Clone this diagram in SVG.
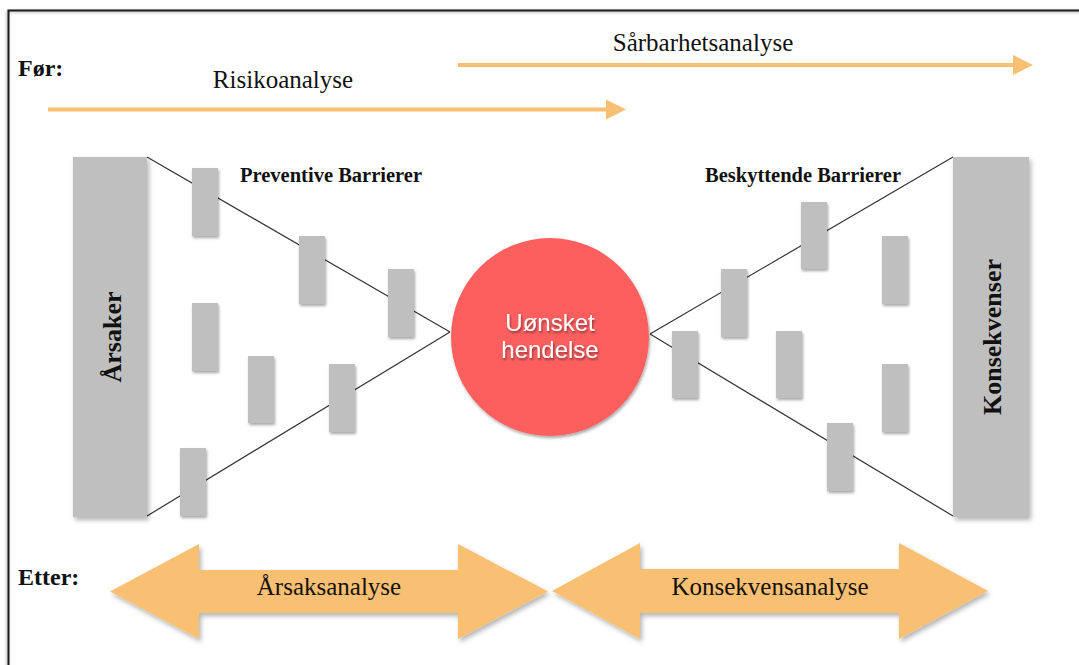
<svg xmlns="http://www.w3.org/2000/svg" width="1079" height="665" viewBox="0 0 1079 665">
  <defs>
    <filter id="shadow" x="-20%" y="-20%" width="150%" height="150%">
      <feDropShadow dx="1" dy="2" stdDeviation="1.5" flood-color="#000" flood-opacity="0.35"/>
    </filter>
    <filter id="softShadow" x="-10%" y="-10%" width="130%" height="130%">
      <feDropShadow dx="2" dy="3" stdDeviation="2.5" flood-color="#000" flood-opacity="0.3"/>
    </filter>
    <filter id="textShadow" x="-10%" y="-30%" width="130%" height="170%">
      <feDropShadow dx="1" dy="2" stdDeviation="1.2" flood-color="#000" flood-opacity="0.45"/>
    </filter>
    <filter id="frameShadow" x="-5%" y="-5%" width="110%" height="110%">
      <feDropShadow dx="-1" dy="1" stdDeviation="1.5" flood-color="#000" flood-opacity="0.3"/>
    </filter>
    <marker id="head" viewBox="0 0 5 5" refX="0" refY="2.5" markerWidth="5" markerHeight="5" orient="auto" markerUnits="strokeWidth">
      <path d="M0,0 L5,2.5 L0,5 Z" fill="#f9bf72"/>
    </marker>
  </defs>
  <style>
    .label { font-family: "Liberation Serif", "Times New Roman", serif; fill: #111; }
    .bold { font-weight: bold; }
    .reg { font-size: 25px; }
    .barrier { fill: #bfbfbf; filter: url(#shadow); }
    .pillar { fill: #bfbfbf; filter: url(#softShadow); }
    .flow { stroke: #f9bf72; stroke-width: 4; fill: none; marker-end: url(#head); }
    .wire { stroke: #333; stroke-width: 1.2; fill: none; }
    .big-arrow { fill: #f9bf72; filter: url(#softShadow); }
  </style>

  <rect width="1079" height="665" fill="#fff"/>
  <!-- outer frame (runs off the right and bottom edges) -->
  <rect x="8.5" y="10.5" width="1200" height="800" fill="none" stroke="#1a1a1a" stroke-width="2" filter="url(#frameShadow)"/>

  <!-- timeline labels and arrows -->
  <g id="before">
    <text class="label bold" x="18" y="76" font-size="24">Før:</text>
    <text class="label reg" x="283" y="88" text-anchor="middle">Risikoanalyse</text>
    <text class="label reg" x="703" y="51" text-anchor="middle">Sårbarhetsanalyse</text>
    <line class="flow" x1="48" y1="109.5" x2="606" y2="109.5"/>
    <line class="flow" x1="458" y1="65" x2="1013" y2="65"/>
  </g>

  <!-- connectors -->
  <g id="connectors">
    <line class="wire" x1="147" y1="157" x2="450" y2="332"/>
    <line class="wire" x1="147" y1="516" x2="450" y2="332"/>
    <line class="wire" x1="650" y1="334" x2="953" y2="157"/>
    <line class="wire" x1="650" y1="334" x2="953" y2="516"/>
  </g>

  <!-- causes -->
  <g id="causes">
    <rect class="pillar" x="73" y="157" width="74" height="360"/>
    <text class="label bold" font-size="26" text-anchor="middle" transform="translate(121,337) rotate(-90)">Årsaker</text>
  </g>

  <!-- consequences -->
  <g id="consequences">
    <rect class="pillar" x="953" y="157" width="76" height="360"/>
    <text class="label bold" font-size="26" text-anchor="middle" transform="translate(1001,337) rotate(-90)">Konsekvenser</text>
  </g>

  <!-- preventive barriers -->
  <g id="preventive-barriers">
    <text class="label bold" x="240" y="182" font-size="20" textLength="182" lengthAdjust="spacingAndGlyphs">Preventive Barrierer</text>
    <rect id="pb1" class="barrier" x="192" y="168" width="26" height="68"/>
    <rect id="pb2" class="barrier" x="299" y="236" width="26" height="68"/>
    <rect id="pb3" class="barrier" x="388" y="269" width="26" height="68"/>
    <rect id="pb4" class="barrier" x="192" y="303" width="26" height="68"/>
    <rect id="pb5" class="barrier" x="248" y="356" width="26" height="67"/>
    <rect id="pb6" class="barrier" x="329" y="364" width="26" height="68"/>
    <rect id="pb7" class="barrier" x="180" y="448" width="26" height="68"/>
  </g>

  <!-- protective barriers -->
  <g id="protective-barriers">
    <text class="label bold" x="705" y="182" font-size="20" textLength="196" lengthAdjust="spacingAndGlyphs">Beskyttende Barrierer</text>
    <rect id="bb1" class="barrier" x="801" y="202" width="26" height="67"/>
    <rect id="bb2" class="barrier" x="721" y="269" width="26" height="68"/>
    <rect id="bb3" class="barrier" x="672" y="331" width="26" height="67"/>
    <rect id="bb4" class="barrier" x="776" y="331" width="26" height="67"/>
    <rect id="bb5" class="barrier" x="882" y="236" width="26" height="68"/>
    <rect id="bb6" class="barrier" x="882" y="364" width="26" height="68"/>
    <rect id="bb7" class="barrier" x="827" y="423" width="26" height="68"/>
  </g>

  <!-- top event -->
  <g id="event">
    <circle cx="550" cy="337" r="99" fill="#fd5e5e" filter="url(#shadow)"/>
    <g font-family="'Liberation Sans', Arial, sans-serif" font-size="24" fill="#fff" text-anchor="middle" filter="url(#textShadow)">
      <text x="550" y="331">Uønsket</text>
      <text x="550" y="358">hendelse</text>
    </g>
  </g>

  <!-- after the event -->
  <g id="after">
    <text class="label bold" x="18" y="585" font-size="24">Etter:</text>
  </g>

  <g id="cause-analysis">
    <path class="big-arrow" d="M110,591.5 L199,544 L199,570 L458,570 L458,544 L548,591.5 L458,639 L458,613 L199,613 L199,639 Z"/>
    <text class="label reg" x="329" y="595" text-anchor="middle">Årsaksanalyse</text>
  </g>

  <g id="consequence-analysis">
    <path class="big-arrow" d="M552,591 L640,543 L640,569 L899,569 L899,543 L988,591 L899,639 L899,613 L640,613 L640,639 Z"/>
    <text class="label reg" x="770" y="595" text-anchor="middle">Konsekvensanalyse</text>
  </g>
</svg>
